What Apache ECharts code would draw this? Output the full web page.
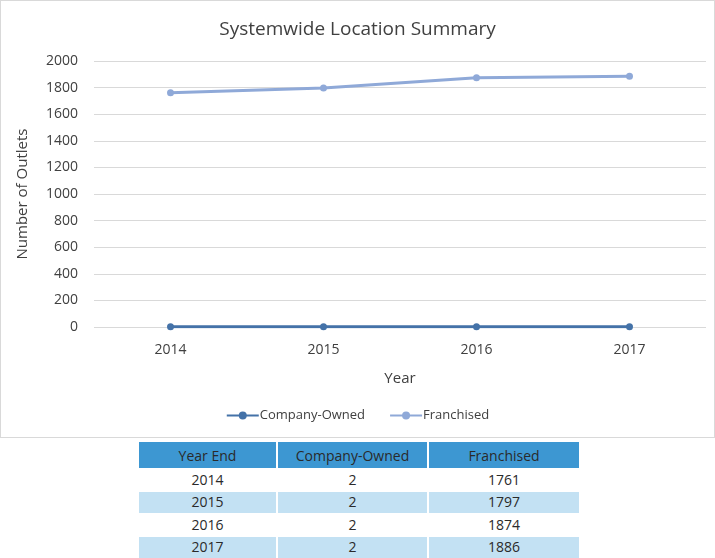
<!DOCTYPE html>
<html>
<head>
<meta charset="utf-8">
<script src="https://cdn.jsdelivr.net/npm/echarts@6/dist/echarts.min.js"></script>
<style>
html,body{margin:0;padding:0;background:#fff;width:715px;height:558px;overflow:hidden;}
#chart{position:absolute;left:0;top:0;width:713px;height:436px;border:1px solid #d9d9d9;}
#tbl{position:absolute;left:137px;top:441px;border-collapse:separate;border-spacing:2px 1px;font-family:"Open Sans","Noto Sans",sans-serif;font-size:14px;color:#2a2a2a;}
#tbl td,#tbl th{text-align:center;padding:0;}
#tbl th{background:#3d97d2;font-weight:normal;height:26px;font-size:14px;}
#tbl td{height:21.5px;line-height:20px;}
#tbl tr.alt td{background:#c3e1f3;}
</style>
</head>
<body>
<div id="chart"></div>
<table id="tbl"></table>
<script>
var years = ['2014','2015','2016','2017'];
var companyOwned = [2, 2, 2, 2];
var franchised = [1761, 1797, 1874, 1886];
var yTicks = [0, 200, 400, 600, 800, 1000, 1200, 1400, 1600, 1800, 2000];
var tableHeaders = ['Year End', 'Company-Owned', 'Franchised'];

var font = '"Open Sans","Noto Sans",sans-serif';
var chart = echarts.init(document.getElementById('chart'));
chart.setOption({
  backgroundColor: '#fff',
  animation: false,
  title: {
    text: 'Systemwide Location Summary',
    left: 'center', top: 14,
    textStyle: {fontFamily: font, fontSize: 19, fontWeight: 'normal', color: '#404040'}
  },
  legend: {
    bottom: 10, left: 'center', itemWidth: 32, itemHeight: 10, itemGap: 24,
    textStyle: {fontFamily: font, fontSize: 13, color: '#404040', padding: [0,0,0,-4]},
    data: ['Company-Owned', 'Franchised']
  },
  grid: {left: 93, right: 8, top: 60, bottom: 110, containLabel: false},
  xAxis: {
    type: 'category', data: years, boundaryGap: true,
    name: 'Year', nameLocation: 'middle', nameGap: 44,
    nameTextStyle: {fontFamily: font, fontSize: 15, color: '#404040'},
    axisLine: {show: false}, axisTick: {show: false},
    axisLabel: {fontFamily: font, fontSize: 14, color: '#404040', margin: 16}
  },
  yAxis: {
    type: 'value', min: yTicks[0], max: yTicks[yTicks.length-1], interval: 200,
    name: 'Number of Outlets', nameLocation: 'middle', nameGap: 64, nameRotate: 90,
    nameTextStyle: {fontFamily: font, fontSize: 15, color: '#404040'},
    axisLine: {show: false}, axisTick: {show: false},
    axisLabel: {fontFamily: font, fontSize: 14, color: '#404040', margin: 16,
      formatter: function(v){ return String(v); }},
    splitLine: {lineStyle: {color: '#d9d9d9', width: 1}}
  },
  series: [
    {name: 'Company-Owned', type: 'line', data: companyOwned, symbol: 'circle', symbolSize: 7,
     itemStyle: {color: '#4472a8'}, lineStyle: {width: 3, color: '#4472a8'}},
    {name: 'Franchised', type: 'line', data: franchised, symbol: 'circle', symbolSize: 7,
     itemStyle: {color: '#8fa9d8'}, lineStyle: {width: 3, color: '#8fa9d8'}}
  ]
});

var tbl = document.getElementById('tbl');
var html = '<tr>' + tableHeaders.map(function(h, i){
  var w = [137, 149, 150][i];
  return '<th style="width:' + w + 'px">' + h + '</th>';
}).join('') + '</tr>';
years.forEach(function(y, i){
  html += '<tr class="' + (i % 2 ? 'alt' : '') + '"><td>' + y + '</td><td>' + companyOwned[i] + '</td><td>' + franchised[i] + '</td></tr>';
});
tbl.innerHTML = html;
</script>
</body>
</html>
